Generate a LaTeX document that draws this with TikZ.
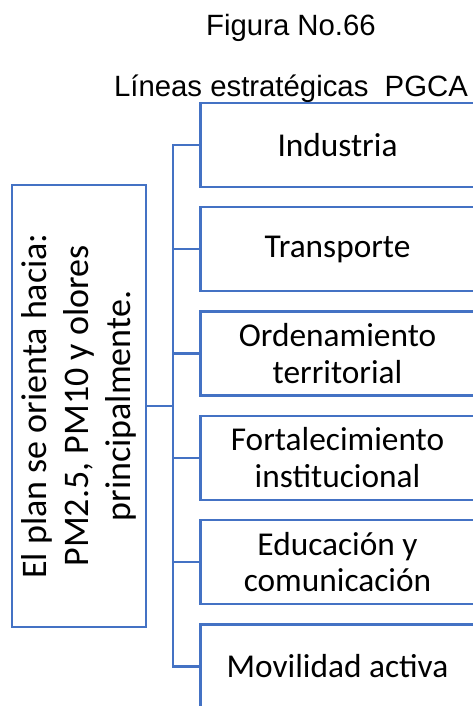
\documentclass[tikz,border=0pt]{standalone}
\usepackage{fontspec}
\setmainfont{Carlito}
\newfontfamily\arialfont{Liberation Sans}
\usetikzlibrary{positioning}

\definecolor{officeblue}{HTML}{4472C4}

\begin{document}
\begin{tikzpicture}[
        x=0.75pt, y=-0.75pt,
        node distance=13.4pt,
        linea/.style={rectangle, draw=officeblue, line width=1.8pt, fill=white, align=center, minimum width=205.5pt, minimum height=63pt, inner sep=0pt, font=\fontsize{25}{27.5}\selectfont},
        plan/.style={rectangle, draw=officeblue, line width=1.8pt, align=center, rotate=90, minimum width=331.5pt, minimum height=100.5pt, inner sep=0pt, font=\fontsize{27}{31.5}\selectfont},
        titulo/.style={anchor=base, font=\arialfont\fontsize{22}{26}\selectfont},
        link/.style={draw=officeblue, line width=1.8pt}
    ]
    \useasboundingbox (0,0) rectangle (472,706);

    \node[titulo] (fig) at (291,36) {Figura No.66};
    \node[titulo] (tit) at (291,97) {Líneas estratégicas\ \ PGCA};

    \node[linea] (ind) at (337.5,145) {Industria};
    \node[linea, below=of ind] (tra) {Transporte};
    \node[linea, below=of tra] (ord) {Ordenamiento\\territorial};
    \node[linea, below=of ord] (fort) {Fortalecimiento\\institucional};
    \node[linea, below=of fort] (edu) {Educación y\\comunicación};
    \node[linea, below=of edu] (mov) {Movilidad activa};

    \node[plan] (orienta) at (79,406) {El plan se orienta hacia:\\PM2.5, PM10 y olores\\principalmente.};

    \coordinate (bus) at (173,406);
    \draw[link] (orienta.south) -- (bus);
    \draw[link] (ind.west) -| (bus) |- (mov.west);
    \foreach \n in {tra, ord, fort, edu}
        \draw[link] (\n.west) -- (\n.west -| bus);

\end{tikzpicture}
\end{document}
